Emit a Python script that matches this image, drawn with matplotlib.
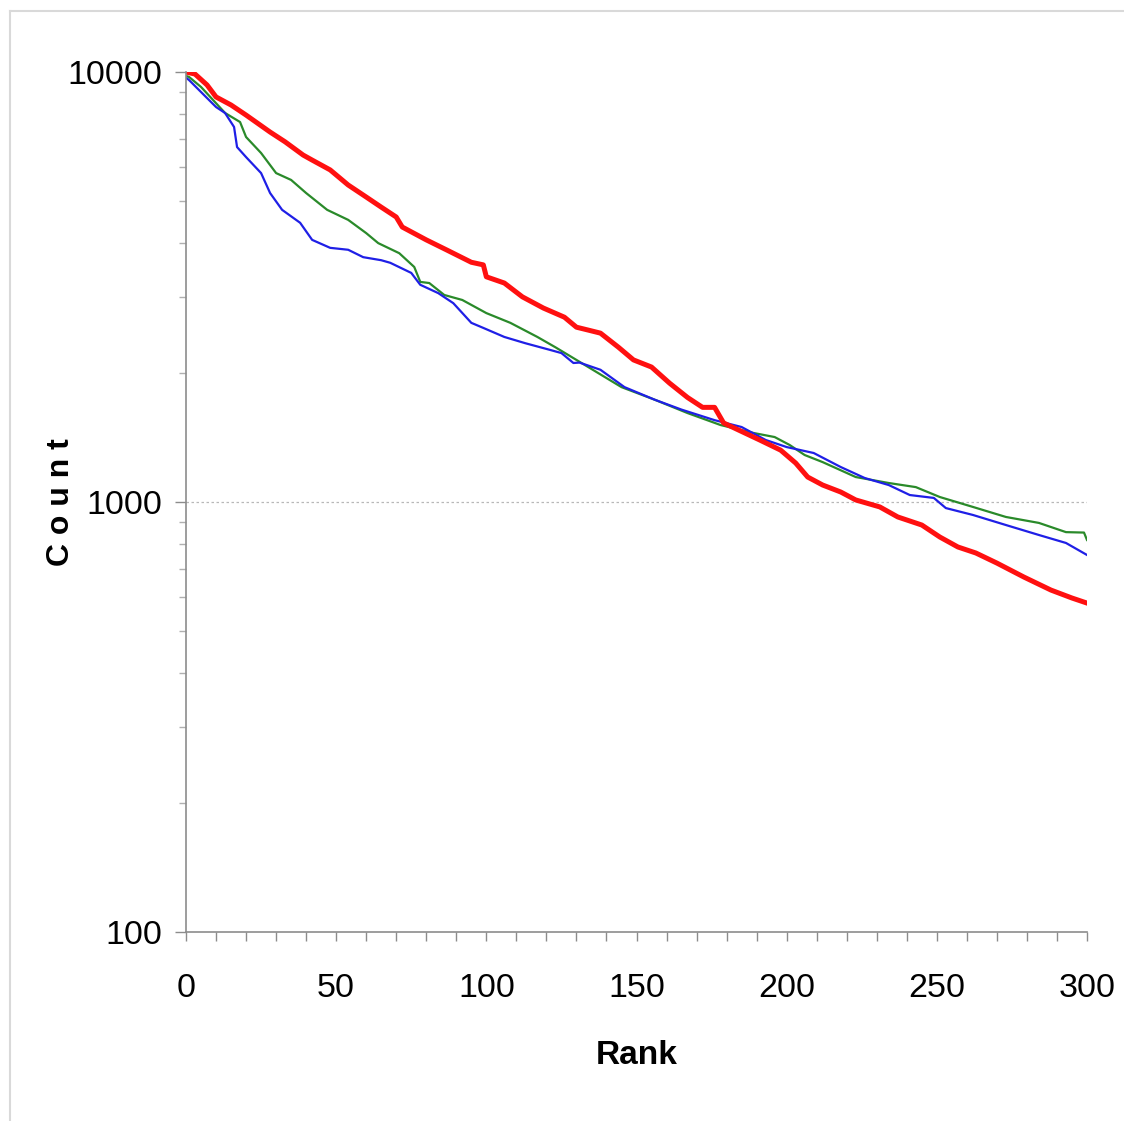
import matplotlib
matplotlib.use("Agg")
import numpy as np
from matplotlib import pyplot as plt
from matplotlib.ticker import MultipleLocator, LogLocator, NullFormatter, FixedLocator
from matplotlib.lines import Line2D

# rank / count values
red_rank = [0, 3, 7, 10, 15, 20, 28, 33, 39, 42, 48, 54, 60, 65, 70, 72, 80, 87, 95, 99,
            100, 106, 112, 119, 126, 130, 134, 138, 144, 149, 155, 161, 167, 172, 176, 179,
            184, 191, 198, 203, 207, 212, 218, 223, 231, 237, 245, 251, 257, 263, 270, 279,
            288, 295, 300]
red_count = [10000, 9890, 9330, 8750, 8380, 7940, 7250, 6880, 6410, 6240, 5920, 5460, 5120,
             4850, 4600, 4360, 4070, 3850, 3610, 3560, 3340, 3230, 3000, 2825, 2690, 2550,
             2510, 2470, 2290, 2140, 2060, 1890, 1750, 1660, 1660, 1527, 1470, 1394, 1320,
             1232, 1143, 1095, 1055, 1011, 974, 923, 884, 829, 786, 761, 721, 669, 624, 598,
             582]

green_rank = [0, 1, 5, 9, 13, 18, 20, 25, 30, 35, 40, 47, 54, 60, 64, 71, 76, 78, 81, 86, 92,
              100, 108, 117, 123, 130, 145, 156, 167, 178, 189, 196, 201, 206, 212, 223, 234,
              243, 251, 262, 273, 284, 293, 299, 300]
green_count = [9790, 9740, 9230, 8610, 8030, 7650, 7060, 6480, 5820, 5610, 5230, 4780, 4530,
               4220, 4000, 3790, 3520, 3250, 3230, 3030, 2950, 2750, 2610, 2420, 2290, 2140,
               1850, 1730, 1610, 1510, 1447, 1416, 1357, 1286, 1238, 1143, 1107, 1083, 1027,
               974, 923, 894, 851, 849, 816]

blue_rank = [0, 1, 6, 10, 13, 16, 17, 20, 25, 28, 32, 38, 42, 48, 54, 59, 65, 68, 75, 78, 84,
             89, 95, 99, 106, 113, 121, 125, 129, 131, 138, 146, 156, 165, 176, 185, 193, 200,
             209, 218, 226, 234, 241, 249, 253, 262, 273, 284, 293, 300]
blue_count = [9700, 9580, 8840, 8290, 8030, 7450, 6690, 6340, 5820, 5230, 4780, 4460, 4070,
              3900, 3860, 3710, 3650, 3600, 3410, 3200, 3060, 2900, 2610, 2540, 2420, 2340,
              2260, 2220, 2105, 2110, 2030, 1850, 1730, 1640, 1550, 1494, 1394, 1342, 1300,
              1206, 1137, 1095, 1038, 1022, 968, 933, 884, 838, 803, 753]

font = ['Liberation Sans', 'DejaVu Sans']

fig = plt.figure(figsize=(11.24, 11.21), dpi=100)
ax = fig.add_axes([186 / 1124, 1 - 932 / 1121, (1087 - 186) / 1124, (932 - 72) / 1121])

ax.plot(green_rank, green_count, color='#2a8a2a', lw=1.6)
ax.plot(blue_rank, blue_count, color='#1f1fe6', lw=1.6)
ax.plot(red_rank, red_count, color='#ff1010', lw=3.6, solid_joinstyle='round')

ax.set_yscale('log')
ax.set_ylim(100, 10000)
ax.set_xlim(0, 300)

ax.xaxis.set_major_locator(MultipleLocator(50))
ax.xaxis.set_minor_locator(MultipleLocator(10))
ax.yaxis.set_major_locator(FixedLocator([100, 1000, 10000]))
ax.yaxis.set_minor_locator(LogLocator(base=10, subs=np.arange(2, 10)))
ax.yaxis.set_minor_formatter(NullFormatter())
ax.set_yticklabels(['100', '1000', '10000'])

for s in ['top', 'right']:
    ax.spines[s].set_visible(False)
for s in ['left', 'bottom']:
    ax.spines[s].set_color('#8c8c8c')
    ax.spines[s].set_linewidth(1.2)

ax.tick_params(axis='x', which='both', direction='out', length=6.5, width=1,
               color='#8c8c8c', pad=23)
ax.tick_params(axis='y', which='major', direction='out', length=8, width=1,
               color='#8c8c8c', pad=9)
ax.tick_params(axis='y', which='minor', direction='out', length=5, width=1,
               color='#b0b0b0')
for lab in ax.get_xticklabels() + ax.get_yticklabels():
    lab.set_family(font)
    lab.set_fontsize(24.5)

# dotted gridline only at 1000
ax.yaxis.grid(True, which='major', linestyle=(0, (2, 2)), color='#b8b8b8', lw=0.9)
for t in ax.yaxis.get_major_ticks():
    if t.get_loc() != 1000:
        t.gridline.set_visible(False)

ax.set_xlabel('Rank', family=font, fontsize=24, fontweight='bold')
ax.set_ylabel('C o u n t', family=font, fontsize=23, fontweight='bold')
ax.xaxis.set_label_coords(0.5, -0.125)
ax.xaxis.label.set_va('top')
ax.yaxis.set_label_coords(-0.122, 0.5)

# light chart-area border
fig.add_artist(Line2D([10 / 1124, 10 / 1124], [0, 1 - 11 / 1121], color='#d9d9d9', lw=1.5))
fig.add_artist(Line2D([10 / 1124, 1], [1 - 11 / 1121, 1 - 11 / 1121], color='#d9d9d9', lw=1.5))

plt.savefig('out.png', dpi=100)
